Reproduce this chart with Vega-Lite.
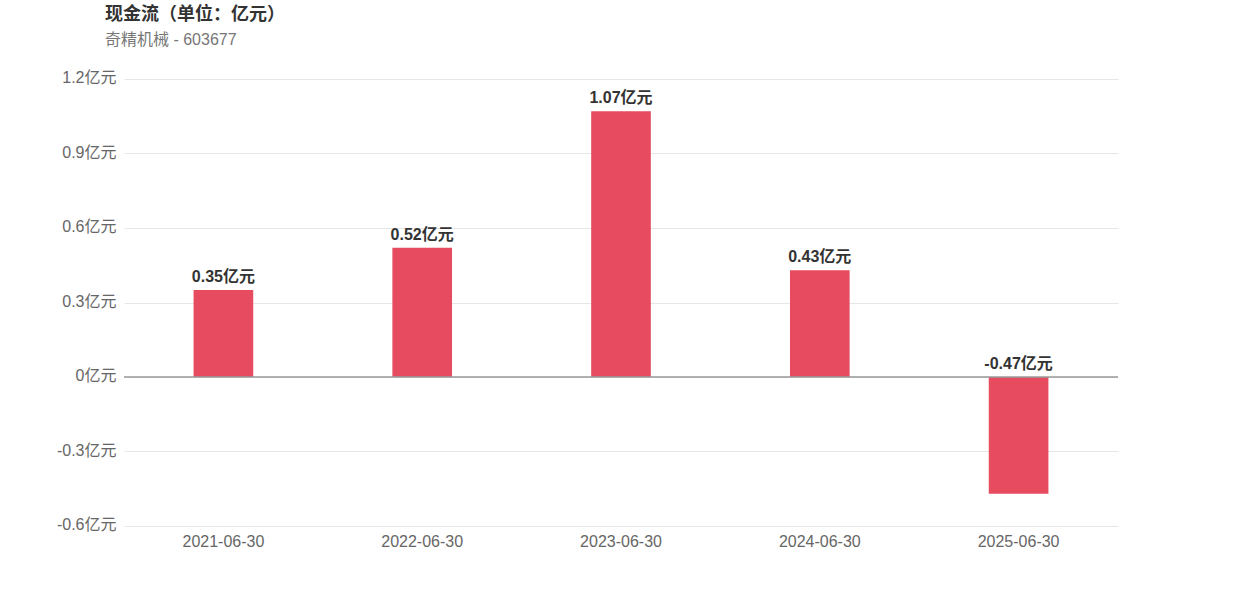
{
  "$schema": "https://vega.github.io/schema/vega-lite/v6.json",
  "width": 994,
  "height": 447,
  "autosize": {"type": "none"},
  "padding": {"left": 124, "top": 79, "right": 124, "bottom": 70},
  "background": "white",
  "config": {
    "font": "Liberation Sans, Noto Sans CJK SC, sans-serif",
    "view": {"stroke": null}
  },
  "title": {
    "text": "现金流（单位：亿元）",
    "subtitle": "奇精机械 - 603677",
    "anchor": "start",
    "frame": "group",
    "dx": -19,
    "offset": 22,
    "fontSize": 18,
    "fontWeight": "bold",
    "color": "#333333",
    "subtitleFontSize": 16,
    "subtitleColor": "#777777",
    "subtitlePadding": 8,
    "font": "Liberation Sans, Noto Sans CJK SC, sans-serif",
    "subtitleFont": "Liberation Sans, Noto Sans CJK SC, sans-serif"
  },
  "data": {
    "values": [
      {"date": "2021-06-30", "value": 0.35, "label": "0.35亿元"},
      {"date": "2022-06-30", "value": 0.52, "label": "0.52亿元"},
      {"date": "2023-06-30", "value": 1.07, "label": "1.07亿元"},
      {"date": "2024-06-30", "value": 0.43, "label": "0.43亿元"},
      {"date": "2025-06-30", "value": -0.47, "label": "-0.47亿元"}
    ]
  },
  "encoding": {
    "x": {
      "field": "date",
      "type": "nominal",
      "sort": null,
      "scale": {"paddingInner": 0, "paddingOuter": 0},
      "axis": {
        "title": null,
        "labelAngle": 0,
        "labelFontSize": 16,
        "labelColor": "#666666",
        "labelPadding": 7,
        "ticks": false,
        "domain": false,
        "grid": false
      }
    }
  },
  "layer": [
    {
      "mark": {"type": "bar", "color": "#e64b5f", "width": {"band": 0.3}},
      "encoding": {
        "y": {
          "field": "value",
          "type": "quantitative",
          "scale": {"domain": [-0.6, 1.2], "nice": false},
          "axis": {
            "title": null,
            "values": [-0.6, -0.3, 0, 0.3, 0.6, 0.9, 1.2],
            "labelExpr": "replace(format(datum.value, '~g'), '−', '-') + '亿元'",
            "labelFontSize": 16,
            "labelColor": "#666666",
            "labelPadding": 8,
            "labelOffset": -1.5,
            "ticks": false,
            "domain": false,
            "gridColor": "#e6e6e6",
            "gridWidth": 1
          }
        }
      }
    },
    {
      "data": {"values": [{"z": 0}]},
      "mark": {"type": "rule", "color": "#999999", "strokeWidth": 1.5},
      "encoding": {"y": {"field": "z", "type": "quantitative"}, "x": null}
    },
    {
      "transform": [{"calculate": "max(datum.value, 0)", "as": "top"}],
      "mark": {"type": "text", "fontSize": 16, "fontWeight": "bold", "color": "#333333", "dy": -5, "baseline": "bottom"},
      "encoding": {
        "y": {"field": "top", "type": "quantitative"},
        "text": {"field": "label"}
      }
    }
  ]
}
